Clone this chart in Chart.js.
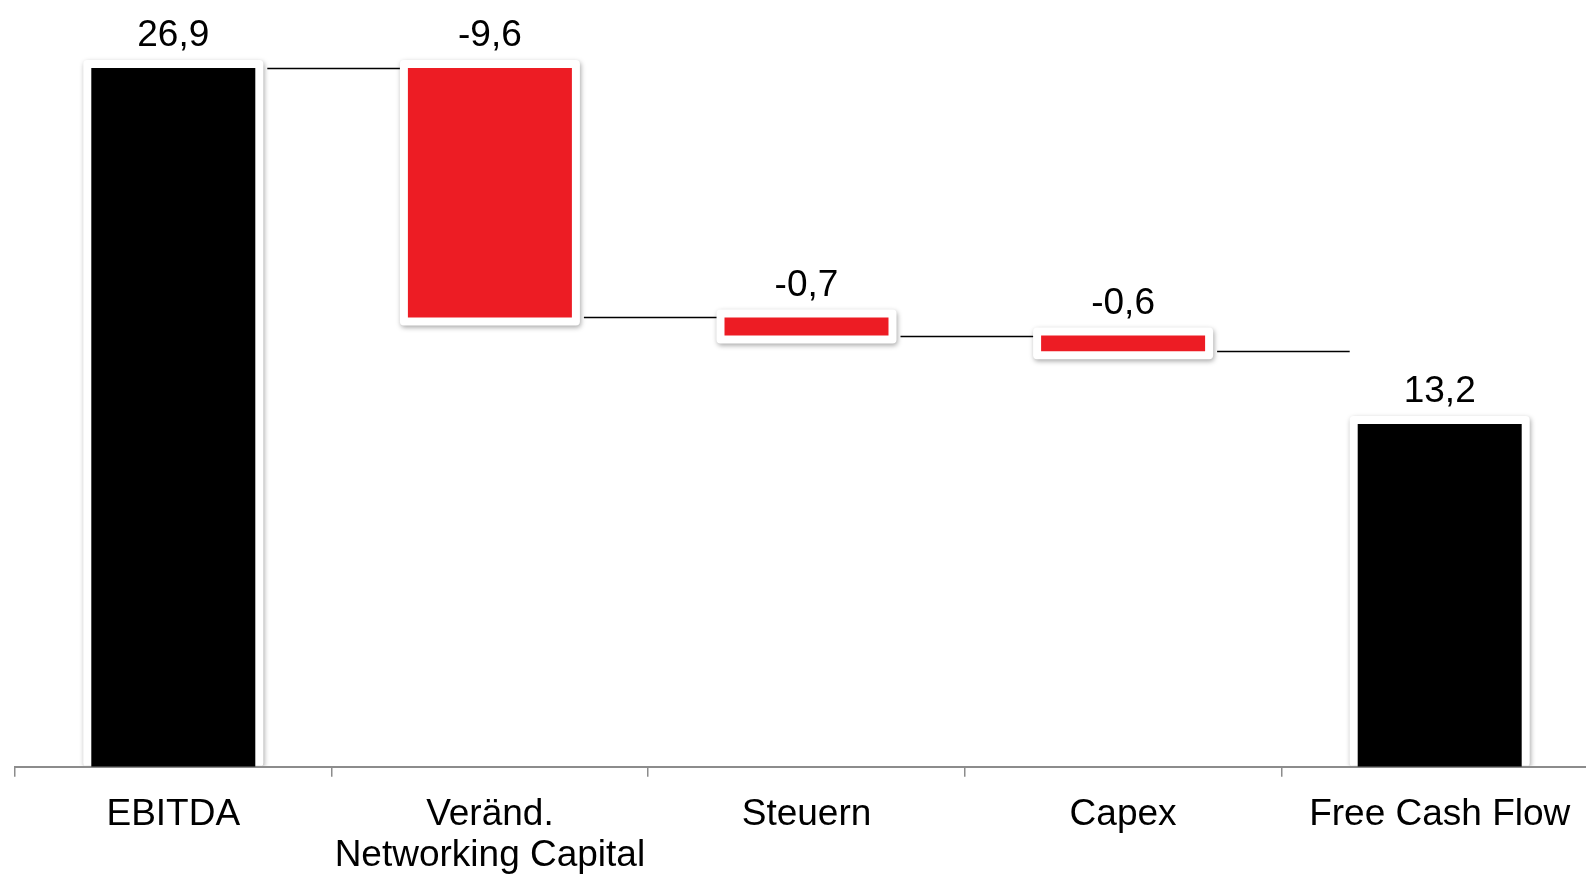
<!DOCTYPE html>
<html lang="de">
<head>
<meta charset="utf-8">
<title>EBITDA zu Free Cash Flow</title>
<script src="https://cdn.jsdelivr.net/npm/chart.js@4"></script>
<style>
  html, body { margin: 0; padding: 0; background: #fff; overflow: hidden; }
  #wrap { position: relative; width: 1600px; height: 898px; }
</style>
</head>
<body>
<div id="wrap"><canvas id="bridge"></canvas></div>
<script>
// Brücke vom EBITDA zum Free Cash Flow (in Mio.)
const categories = ['EBITDA', ['Veränd.', 'Networking Capital'], 'Steuern', 'Capex', 'Free Cash Flow'];
const amounts = [26.9, -9.6, -0.7, -0.6, 13.2];
const kinds = ['total', 'delta', 'delta', 'delta', 'total'];

const FONT = '"Liberation Sans", Arial, Helvetica, sans-serif';
const fmt = v => v.toLocaleString('de-DE', { minimumFractionDigits: 1, maximumFractionDigits: 1 });

// Floating ranges: totals start at zero, deltas continue from the running level
let running = 0;
const levels = [];
const ranges = amounts.map((v, i) => {
  if (kinds[i] === 'total') { running = v; levels.push(running); return [0, v]; }
  const start = running;
  running = +(running + v).toFixed(1);
  levels.push(running);
  return [Math.min(start, running), Math.max(start, running)];
});
const colors = kinds.map(k => k === 'total' ? '#000000' : '#ed1c24');

const FRAME = 8;

// White rounded frame with a soft drop shadow behind every bar
const framePlugin = {
  id: 'frames',
  beforeDatasetsDraw(chart) {
    const { ctx, chartArea } = chart;
    const meta = chart.getDatasetMeta(0);
    ctx.save();
    ctx.beginPath();
    ctx.rect(0, 0, chart.width, chartArea.bottom - 1);
    ctx.clip();
    meta.data.forEach(bar => {
      const { x, y, base, width } = bar.getProps(['x', 'y', 'base', 'width'], true);
      const top = Math.min(y, base) - FRAME;
      const bot = Math.min(Math.max(y, base) + FRAME, chartArea.bottom);
      ctx.shadowColor = 'rgba(0,0,0,0.35)';
      ctx.shadowBlur = 5;
      ctx.shadowOffsetX = 1;
      ctx.shadowOffsetY = 2;
      ctx.fillStyle = '#ffffff';
      ctx.beginPath();
      ctx.roundRect(x - width / 2 - FRAME, top, width + FRAME * 2, bot - top, 4);
      ctx.fill();
    });
    ctx.restore();
  },
  afterDatasetsDraw(chart) {
    const { ctx } = chart;
    const yScale = chart.scales.y;
    const bars = chart.getDatasetMeta(0).data;
    ctx.save();
    // connector lines between neighbouring bars
    ctx.strokeStyle = '#000';
    ctx.lineWidth = 1.6;
    for (let i = 0; i < bars.length - 1; i++) {
      const a = bars[i].getProps(['x', 'width'], true);
      const b = bars[i + 1].getProps(['x', 'width'], true);
      const yy = Math.round(yScale.getPixelForValue(levels[i])) + 0.5;
      ctx.beginPath();
      ctx.moveTo(a.x + a.width / 2 + FRAME + 4, yy);
      ctx.lineTo(b.x - b.width / 2 - FRAME, yy);
      ctx.stroke();
    }
    // value labels above each bar
    ctx.fillStyle = '#000';
    ctx.font = '37px ' + FONT;
    ctx.textAlign = 'center';
    ctx.textBaseline = 'middle';
    bars.forEach((bar, i) => {
      const { x, y, base } = bar.getProps(['x', 'y', 'base'], true);
      ctx.fillText(fmt(amounts[i]), x, Math.min(y, base) - 32);
    });
    ctx.restore();
  }
};

new Chart(document.getElementById('bridge'), {
  type: 'bar',
  data: {
    labels: categories,
    datasets: [{
      data: ranges,
      backgroundColor: colors,
      borderWidth: 0,
      categoryPercentage: 1,
      barPercentage: 0.518
    }]
  },
  options: {
    responsive: true,
    maintainAspectRatio: false,
    animation: false,
    layout: { padding: { top: 68, left: 15, right: 2, bottom: 4 } },
    plugins: { legend: { display: false }, tooltip: { enabled: false } },
    scales: {
      x: {
        grid: { display: true, drawOnChartArea: false, drawTicks: true, tickLength: 10, color: '#8c8c8c', lineWidth: 1.5, offset: true },
        border: { display: true, color: '#8c8c8c', width: 2 },
        ticks: { color: '#000', padding: 17, maxRotation: 0, autoSkip: false, font: { family: FONT, size: 37, lineHeight: 1.124 } }
      },
      y: { display: false, min: 0, max: Math.max(...levels) }
    }
  },
  plugins: [framePlugin]
});
</script>
</body>
</html>
